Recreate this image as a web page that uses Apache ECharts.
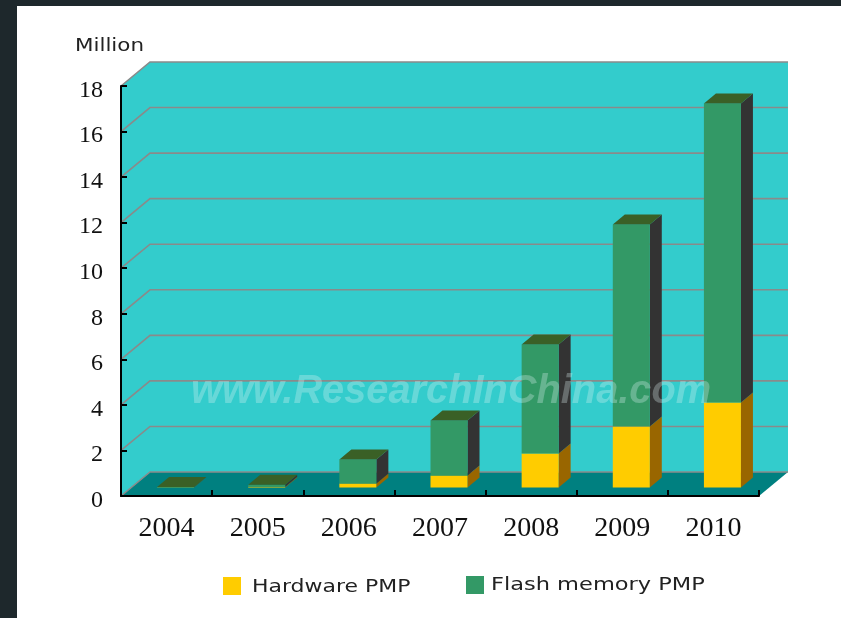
<!DOCTYPE html>
<html>
<head>
<meta charset="utf-8">
<title>PMP shipments</title>
<script src="https://cdn.jsdelivr.net/npm/echarts@6/dist/echarts.min.js"></script>
<style>
  html, body { margin: 0; padding: 0; width: 841px; height: 618px; overflow: hidden; background: #1e282c; }
  #panel { position: absolute; left: 17px; top: 6px; right: 0; bottom: 0; background: #fff; }
  /* the reference is a slightly soft screenshot */
  #chart { position: absolute; left: 0; top: 0; width: 841px; height: 618px; filter: blur(0.5px); }
</style>
</head>
<body>
<div id="panel"></div>
<div id="chart"></div>
<script>
const categories = ['2004', '2005', '2006', '2007', '2008', '2009', '2010'];
const hardwarePmp = [0.01, 0.03, 0.18, 0.53, 1.49, 2.68, 3.73];
const flashPmp = [0.01, 0.09, 1.05, 2.41, 4.79, 8.87, 13.13];
const gridValues = [0, 2, 4, 6, 8, 10, 12, 14, 16, 18];

// wall depth and how far into it the bars stand
const wallDepth = [29, -24];
const barShift = [9, -8.5];
const barDepth = [12, -10];
const barWidth = 37;

const hardwareColors = { front: '#ffcc00', side: '#996600' };
const flashColors = { front: '#339966', side: '#333333', top: '#3a6026' };

const poly = (points, fill) => ({ type: 'polygon', shape: { points }, style: { fill } });

const renderWalls = (params) => {
  const { x, y, width, height } = params.coordSys;
  const [dx, dy] = wallDepth;
  const bottom = y + height;
  const right = x + width;
  return {
    type: 'group',
    children: [
      poly([[x, y], [x + dx, y + dy], [right + dx, y + dy], [right + dx, bottom + dy], [x + dx, bottom + dy], [x, bottom]], '#33cccc'),
      poly([[x, bottom], [x + dx, bottom + dy], [right + dx, bottom + dy], [right, bottom]], '#008080'),
    ],
  };
};

const renderGridLine = (params, api) => {
  const { x, width } = params.coordSys;
  const py = api.coord([0, api.value(0)])[1];
  const [dx, dy] = wallDepth;
  return {
    type: 'polyline',
    shape: { points: [[x, py], [x + dx, py + dy], [x + width + dx, py + dy]] },
    style: { stroke: '#8a8a8a', lineWidth: 1.6, fill: null },
  };
};

// one stacked block: front, side and optionally the top face
const makeBlock = (values, baseValues, colors) => (params, api) => {
  const i = params.dataIndex;
  const base = baseValues ? baseValues[i] : 0;
  const p0 = api.coord([i, base]);
  const p1 = api.coord([i, base + values[i]]);
  const left = p0[0] + barShift[0] - barWidth / 2;
  const right = left + barWidth;
  const y0 = p0[1] + barShift[1];
  const y1 = p1[1] + barShift[1];
  const [dx, dy] = barDepth;
  const children = [
    poly([[right, y0], [right + dx, y0 + dy], [right + dx, y1 + dy], [right, y1]], colors.side),
    poly([[left, y0], [right, y0], [right, y1], [left, y1]], colors.front),
  ];
  if (colors.top) {
    children.push(poly([[left, y1], [right, y1], [right + dx, y1 + dy], [left + dx, y1 + dy]], colors.top));
  }
  return { type: 'group', children };
};

// the picture's labels are wider than any installed font, so they get stretched
const wideText = (text, x, y, scaleX) => ({
  type: 'text',
  x,
  y,
  scaleX,
  silent: true,
  style: { text, font: '18px "DejaVu Sans"', fill: '#222', verticalAlign: 'middle' },
});

const swatch = (x, y, fill) => ({
  type: 'rect',
  silent: true,
  shape: { x, y, width: 18, height: 18 },
  style: { fill },
});

const chart = echarts.init(document.getElementById('chart'), null, { renderer: 'canvas' });

chart.setOption({
  animation: false,
  backgroundColor: 'transparent',
  grid: { left: 121, right: 82, top: 86, bottom: 122 },
  xAxis: {
    type: 'category',
    data: categories,
    z: 5,
    axisLine: { lineStyle: { color: '#000', width: 2 } },
    axisTick: { show: true, inside: true, length: 6, lineStyle: { color: '#000', width: 2 } },
    axisLabel: { margin: 19, fontFamily: 'Liberation Serif', fontSize: 28, color: '#111' },
  },
  yAxis: {
    type: 'value',
    min: 0,
    max: 18,
    interval: 2,
    z: 5,
    axisLine: { show: true, lineStyle: { color: '#000', width: 2 } },
    axisTick: { show: true, inside: true, length: 6, lineStyle: { color: '#000', width: 2 } },
    splitLine: { show: false },
    // labels sit a little below their ticks in the picture
    axisLabel: { margin: 18, fontFamily: 'Liberation Serif', fontSize: 24, color: '#111', verticalAlign: 'top', lineHeight: 9 },
  },
  series: [
    { type: 'custom', silent: true, clip: false, z: 1, data: [[0]], renderItem: renderWalls },
    { type: 'custom', silent: true, clip: false, z: 2, data: gridValues.map((v) => [v]), renderItem: renderGridLine },
    {
      type: 'custom',
      name: 'Hardware PMP',
      clip: false,
      z: 3,
      data: categories.map((c, i) => [i, hardwarePmp[i]]),
      renderItem: makeBlock(hardwarePmp, null, hardwareColors),
    },
    {
      type: 'custom',
      name: 'Flash memory PMP',
      clip: false,
      z: 4,
      data: categories.map((c, i) => [i, flashPmp[i]]),
      renderItem: makeBlock(flashPmp, hardwarePmp, flashColors),
    },
  ],
  graphic: [
    wideText('Million', 75, 46, 1.19),
    swatch(223, 577, hardwareColors.front),
    wideText('Hardware PMP', 252, 587, 1.22),
    swatch(466, 576, flashColors.front),
    wideText('Flash memory PMP', 491, 585.5, 1.25),
    {
      type: 'text',
      z: 20,
      x: 191,
      y: 371,
      scaleX: 0.97,
      silent: true,
      style: {
        text: 'www.ResearchInChina.com',
        font: 'italic bold 41px "Liberation Sans"',
        fill: 'rgba(225,245,245,0.3)',
        shadowColor: 'rgba(30,80,80,0.35)',
        shadowBlur: 3,
        shadowOffsetX: 2,
        shadowOffsetY: 3,
      },
    },
  ],
});
</script>
</body>
</html>
